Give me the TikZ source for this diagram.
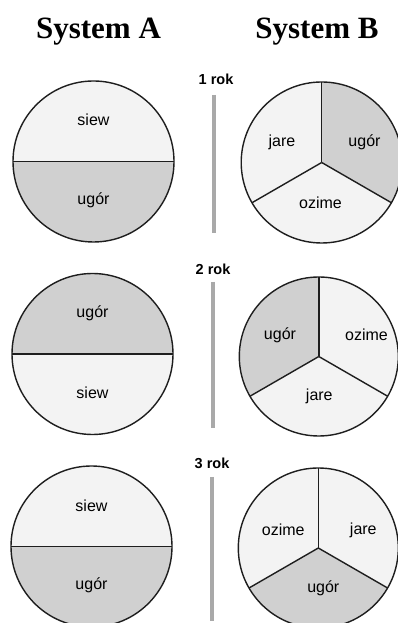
\documentclass[tikz,border=0pt]{standalone}
\usepackage{fontspec}
\setmainfont{Liberation Serif}
\newfontfamily\arialf{Liberation Sans}
\definecolor{lightfill}{HTML}{F3F3F3}
\definecolor{darkfill}{HTML}{D0D0D0}
\definecolor{barcol}{HTML}{A9A9A9}
\definecolor{edge}{HTML}{1E1E1E}
\tikzset{
  title/.style={font=\fontsize{31}{31}\selectfont\bfseries, inner sep=0pt},
  lbl/.style={font=\arialf\fontsize{16}{16}\selectfont, inner sep=0pt},
  yearlbl/.style={font=\arialf\fontsize{14.5}{14.5}\selectfont\bfseries, inner sep=0pt},
  outline/.style={draw=edge, line width=1.4pt},
  divider/.style={draw=edge, line width=1.4pt},
  yearbar/.style={draw=barcol, line width=4pt},
}
\begin{document}
\begin{tikzpicture}[x=1pt,y=1pt]
\useasboundingbox (0,0) rectangle (398,623);
\clip (0,0) rectangle (398,623);
\fill[white] (0,0) rectangle (398,623);

% titles
\node[title] (tA) at (98.5,591) {System A};
\node[title] (tB) at (317,591) {System B};

% ---------- System A ----------
% A1
\coordinate (a1) at (93.5,461.5);
\coordinate (a1w) at (13,461.5);
\coordinate (a1e) at (174,461.5);
\fill[lightfill] (a1e) arc[start angle=0,end angle=180,radius=80.5] -- cycle;
\fill[darkfill] (a1w) arc[start angle=180,end angle=360,radius=80.5] -- cycle;
\draw[divider] (a1w) -- (a1e);
\draw[outline] (a1) circle[radius=80.5];
\node[lbl] (a1t) at (93.5,503) {siew};
\node[lbl] (a1b) at (93.5,423) {ugór};

% A2
\coordinate (a2) at (92.5,269);
\coordinate (a2w) at (12,269);
\coordinate (a2e) at (173,269);
\fill[darkfill] (a2e) arc[start angle=0,end angle=180,radius=80.5] -- cycle;
\fill[lightfill] (a2w) arc[start angle=180,end angle=360,radius=80.5] -- cycle;
\draw[divider] (a2w) -- (a2e);
\draw[outline] (a2) circle[radius=80.5];
\node[lbl] (a2t) at (92.5,310) {ugór};
\node[lbl] (a2b) at (92.5,230) {siew};

% A3
\coordinate (a3) at (91.5,76.5);
\coordinate (a3w) at (11,76.5);
\coordinate (a3e) at (172,76.5);
\fill[lightfill] (a3e) arc[start angle=0,end angle=180,radius=80.5] -- cycle;
\fill[darkfill] (a3w) arc[start angle=180,end angle=360,radius=80.5] -- cycle;
\draw[divider] (a3w) -- (a3e);
\draw[outline] (a3) circle[radius=80.5];
\node[lbl] (a3t) at (91.5,117.5) {siew};
\node[lbl] (a3b) at (91.5,38) {ugór};

% ---------- year bars ----------
\coordinate (b1top) at (214,528);
\coordinate (b1bot) at (214,390);
\draw[yearbar] (b1top) -- (b1bot);
\node[yearlbl] (y1) at (216,544) {1 rok};

\coordinate (b2top) at (212.7,341);
\coordinate (b2bot) at (212.7,195);
\draw[yearbar] (b2top) -- (b2bot);
\node[yearlbl] (y2) at (213,354) {2 rok};

\coordinate (b3top) at (212,146);
\coordinate (b3bot) at (212,2);
\draw[yearbar] (b3top) -- (b3bot);
\node[yearlbl] (y3) at (212,160) {3 rok};

% ---------- System B ----------
% B1: upper-left jare (light), upper-right ugor (dark), bottom ozime (light)
\coordinate (c1) at (321.7,460.5);
\fill[lightfill] (c1) -- ++(90:80.5) arc[start angle=90,end angle=210,radius=80.5] -- cycle;
\fill[darkfill] (c1) -- ++(-30:80.5) arc[start angle=-30,end angle=90,radius=80.5] -- cycle;
\fill[lightfill] (c1) -- ++(210:80.5) arc[start angle=210,end angle=330,radius=80.5] -- cycle;
\draw[divider] (c1) -- ++(90:80.5);
\draw[divider] (c1) -- ++(210:80.5);
\draw[divider] (c1) -- ++(330:80.5);
\draw[outline] (c1) circle[radius=80.5];
\node[lbl] (c1l) at (282,480.5) {jare};
\node[lbl] (c1r) at (364.5,480.5) {ugór};
\node[lbl] (c1b) at (320.5,420.5) {ozime};

% B2: upper-left ugor (dark), upper-right ozime (light), bottom jare (light)
\coordinate (c2) at (318.8,266.5);
\fill[darkfill] (c2) -- ++(90:79.5) arc[start angle=90,end angle=210,radius=79.5] -- cycle;
\fill[lightfill] (c2) -- ++(-30:79.5) arc[start angle=-30,end angle=90,radius=79.5] -- cycle;
\fill[lightfill] (c2) -- ++(210:79.5) arc[start angle=210,end angle=330,radius=79.5] -- cycle;
\draw[divider] (c2) -- ++(90:79.5);
\draw[divider] (c2) -- ++(210:79.5);
\draw[divider] (c2) -- ++(330:79.5);
\draw[outline] (c2) circle[radius=79.5];
\node[lbl] (c2l) at (280,288) {ugór};
\node[lbl] (c2r) at (366.5,288) {ozime};
\node[lbl] (c2b) at (319.3,226.3) {jare};

% B3: upper-left ozime (light), upper-right jare (light), bottom ugor (dark)
\coordinate (c3) at (318.3,75);
\fill[lightfill] (c3) -- ++(90:80) arc[start angle=90,end angle=210,radius=80] -- cycle;
\fill[lightfill] (c3) -- ++(-30:80) arc[start angle=-30,end angle=90,radius=80] -- cycle;
\fill[darkfill] (c3) -- ++(210:80) arc[start angle=210,end angle=330,radius=80] -- cycle;
\draw[divider] (c3) -- ++(90:80);
\draw[divider] (c3) -- ++(210:80);
\draw[divider] (c3) -- ++(330:80);
\draw[outline] (c3) circle[radius=80];
\node[lbl] (c3l) at (283.3,93) {ozime};
\node[lbl] (c3r) at (363.3,93) {jare};
\node[lbl] (c3b) at (323.3,34.7) {ugór};
\end{tikzpicture}
\end{document}
